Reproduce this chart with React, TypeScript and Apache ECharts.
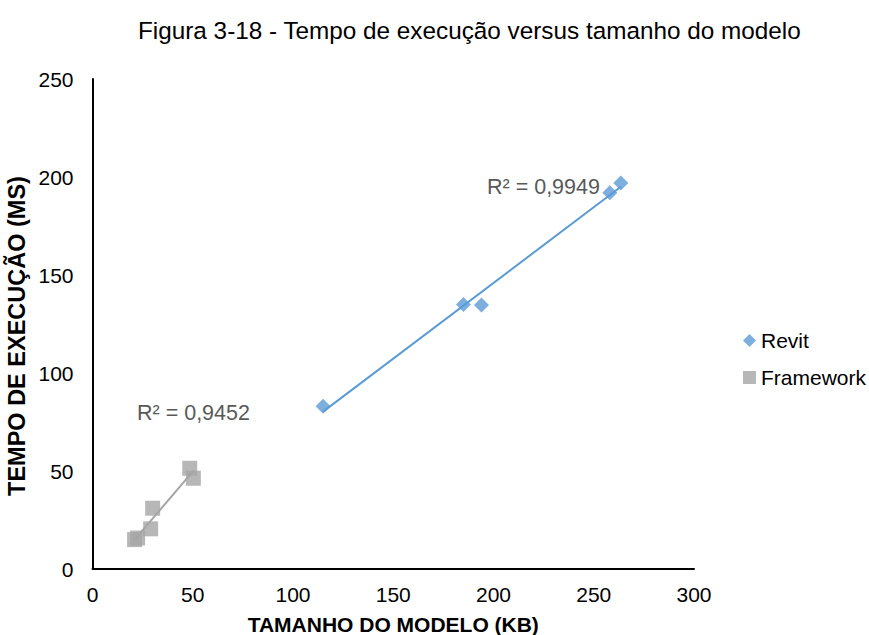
import React, { useEffect, useRef } from "react";
import * as echarts from "echarts";

const TITLE = "Figura 3-18 - Tempo de execução versus tamanho do modelo";
const X_NAME = "TAMANHO DO MODELO (KB)";
const Y_NAME = "TEMPO DE EXECUÇÃO (MS)";

const revitX = [115, 185, 194, 258, 263.5];
const revitY = [83, 135, 134.7, 192, 197];
const frameworkX = [21, 22.5, 29, 30, 48.5, 50.3];
const frameworkY = [15, 15.8, 20.5, 31, 51.4, 46.3];
const r2Revit = "R² = 0,9949";
const r2Framework = "R² = 0,9452";

const FONT = "'Liberation Sans', Arial, sans-serif";

function regressionLine(xs: number[], ys: number[]): number[][] {
  const n = xs.length;
  const mx = xs.reduce((a, b) => a + b, 0) / n;
  const my = ys.reduce((a, b) => a + b, 0) / n;
  let sxy = 0;
  let sxx = 0;
  for (let i = 0; i < n; i++) {
    sxy += (xs[i] - mx) * (ys[i] - my);
    sxx += (xs[i] - mx) * (xs[i] - mx);
  }
  const b = sxy / sxx;
  const a = my - b * mx;
  const x0 = Math.min(...xs);
  const x1 = Math.max(...xs);
  return [
    [x0, a + b * x0],
    [x1, a + b * x1],
  ];
}

export default function App() {
  const ref = useRef<HTMLDivElement>(null);
  useEffect(() => {
    if (!ref.current) return;
    const chart = echarts.init(ref.current, undefined, { renderer: "svg" });
    const revitData = revitX.map((x, i) => [x, revitY[i]]);
    const fwData = frameworkX.map((x, i) => [x, frameworkY[i]]);
    chart.setOption({
      animation: false,
      backgroundColor: "#fff",
      title: {
        text: TITLE,
        left: 138,
        top: 18,
        padding: 0,
        textStyle: { fontFamily: FONT, fontSize: 24.3, fontWeight: "normal", color: "#000" },
      },
      legend: {
        orient: "vertical",
        left: 743,
        top: 330,
        padding: 0,
        itemWidth: 13,
        itemHeight: 13,
        itemGap: 16,
        textStyle: { fontFamily: FONT, fontSize: 21, color: "#000" },
        data: [
          { name: "Revit", icon: "diamond" },
          { name: "Framework", icon: "rect" },
        ],
      },
      grid: {
        left: 92.5,
        top: 79,
        right: 175,
        bottom: 66,
        containLabel: false,
        outerBoundsMode: "none",
      },
      xAxis: {
        type: "value",
        min: 0,
        max: 300,
        interval: 50,
        name: X_NAME,
        nameLocation: "middle",
        nameGap: 45,
        nameTextStyle: { fontFamily: FONT, fontSize: 21, fontWeight: "bold", color: "#000" },
        axisLine: { show: true, lineStyle: { color: "#000", width: 2 } },
        axisTick: { show: false },
        splitLine: { show: false },
        axisLabel: { fontFamily: FONT, fontSize: 21, color: "#000", margin: 15 },
      },
      yAxis: {
        type: "value",
        min: 0,
        max: 250,
        interval: 50,
        name: Y_NAME,
        nameLocation: "middle",
        nameGap: 64,
        nameRotate: 90,
        nameMoveOverlap: false,
        nameTextStyle: {
          fontFamily: FONT,
          fontSize: 23.5,
          fontWeight: "bold",
          color: "#000",
          padding: [0, 24, 0, 0],
        },
        axisLine: { show: true, lineStyle: { color: "#000", width: 2 } },
        axisTick: { show: false },
        splitLine: { show: false },
        axisLabel: { fontFamily: FONT, fontSize: 21, color: "#000", margin: 19 },
      },
      series: [
        {
          name: "Revit trend",
          type: "line",
          data: regressionLine(revitX, revitY),
          showSymbol: false,
          symbol: "none",
          lineStyle: { color: "#5B9BD5", width: 2 },
          z: 1,
          silent: true,
        },
        {
          name: "Framework trend",
          type: "line",
          data: regressionLine(frameworkX, frameworkY),
          showSymbol: false,
          symbol: "none",
          lineStyle: { color: "#A5A5A5", width: 2 },
          z: 1,
          silent: true,
        },
        {
          name: "Revit",
          type: "scatter",
          symbol: "diamond",
          symbolSize: 15,
          itemStyle: { color: "#5B9BD5" },
          data: revitData,
          z: 3,
        },
        {
          name: "Framework",
          type: "scatter",
          symbol: "rect",
          symbolSize: 15,
          itemStyle: { color: "#A5A5A5" },
          data: fwData,
          z: 3,
        },
      ],
      graphic: [
        {
          type: "text",
          left: 487,
          top: 176,
          style: { text: r2Revit, fontFamily: FONT, fontSize: 21.5, fill: "#595959" },
        },
        {
          type: "text",
          left: 137,
          top: 402,
          style: { text: r2Framework, fontFamily: FONT, fontSize: 21.5, fill: "#595959" },
        },
      ],
    });
    return () => chart.dispose();
  }, []);
  return (
    <div
      ref={ref}
      style={{ position: "absolute", left: 0, top: 0, width: 869, height: 635 }}
    />
  );
}
